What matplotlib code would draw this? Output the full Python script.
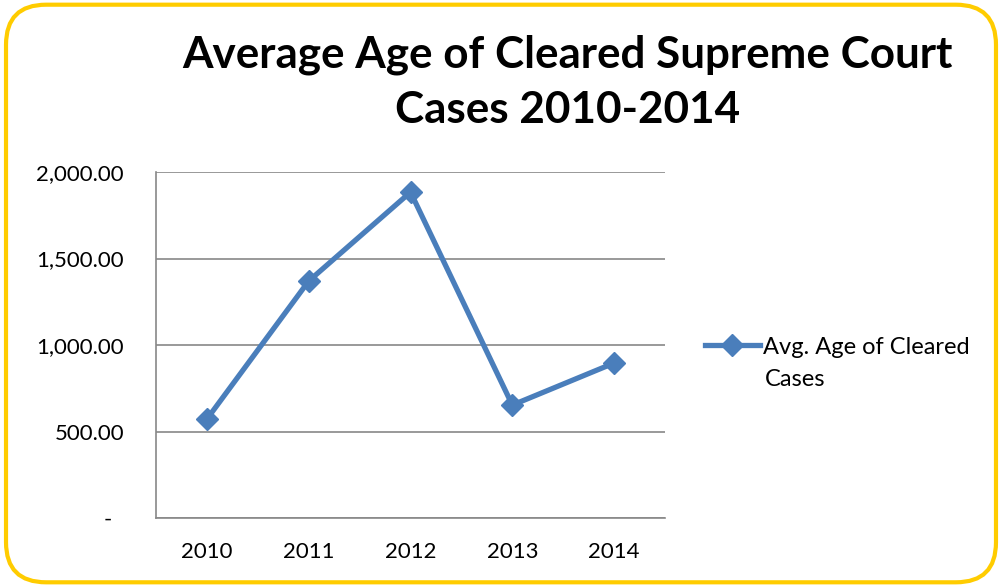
import matplotlib
matplotlib.use('Agg')
import matplotlib.pyplot as plt
from matplotlib.patches import FancyBboxPatch
from matplotlib.ticker import FuncFormatter

years = ['2010', '2011', '2012', '2013', '2014']
avg_age = [572, 1370, 1884, 653, 896]

plt.rcParams['font.family'] = ['Lato', 'DejaVu Sans']

fig = plt.figure(figsize=(10.02, 5.87), dpi=100)

# rounded yellow frame
frame = FancyBboxPatch((0.006, 0.008), 0.988, 0.984, boxstyle='round,pad=0,rounding_size=0.04',
                       transform=fig.transFigure, facecolor='none', edgecolor='#FFCC00',
                       linewidth=3, mutation_aspect=1002 / 587, zorder=5)
fig.patches.append(frame)

ax = fig.add_axes([0.1557, 0.1175, 0.508, 0.5894])
ax.plot(range(len(years)), avg_age, color='#4A7EBB', linewidth=3.8, marker='D',
        markersize=11, label='Avg. Age of Cleared')

ax.set_xlim(-0.5, len(years) - 0.5)
ax.set_ylim(0, 2000)
ax.set_yticks([0, 500, 1000, 1500, 2000])
ax.yaxis.set_major_formatter(FuncFormatter(lambda v, p: '-  ' if v == 0 else f'{v:,.2f}'))
ax.set_xticks(range(len(years)))
ax.set_xticklabels(years)
ax.tick_params(length=0, labelsize=16)
ax.tick_params(axis='x', pad=17)
ax.tick_params(axis='y', pad=23)
ax.grid(axis='y', color='#888888', linewidth=1.2)
ax.set_axisbelow(True)
for s in ['top', 'right']:
    ax.spines[s].set_visible(False)
for s in ['left', 'bottom']:
    ax.spines[s].set_color('#888888')
    ax.spines[s].set_linewidth(1.2)

fig.text(0.566, 1 - 55 / 587, 'Average Age of Cleared Supreme Court', ha='center',
         va='center', fontsize=31.7, fontweight='bold')
fig.text(0.566, 1 - 110 / 587, 'Cases 2010-2014', ha='center',
         va='center', fontsize=31.7, fontweight='bold')

# legend: first line with handle, second line of the label below it
ax.legend(loc='center left', bbox_to_anchor=(1.079, (518 - 347) / 346), frameon=False,
          fontsize=17, handlelength=2.3, handletextpad=0.15, borderaxespad=0, borderpad=0)
fig.text(765 / 1002, 1 - 380 / 587, 'Cases', ha='left', va='center', fontsize=17)

fig.savefig('out.png', dpi=100)
